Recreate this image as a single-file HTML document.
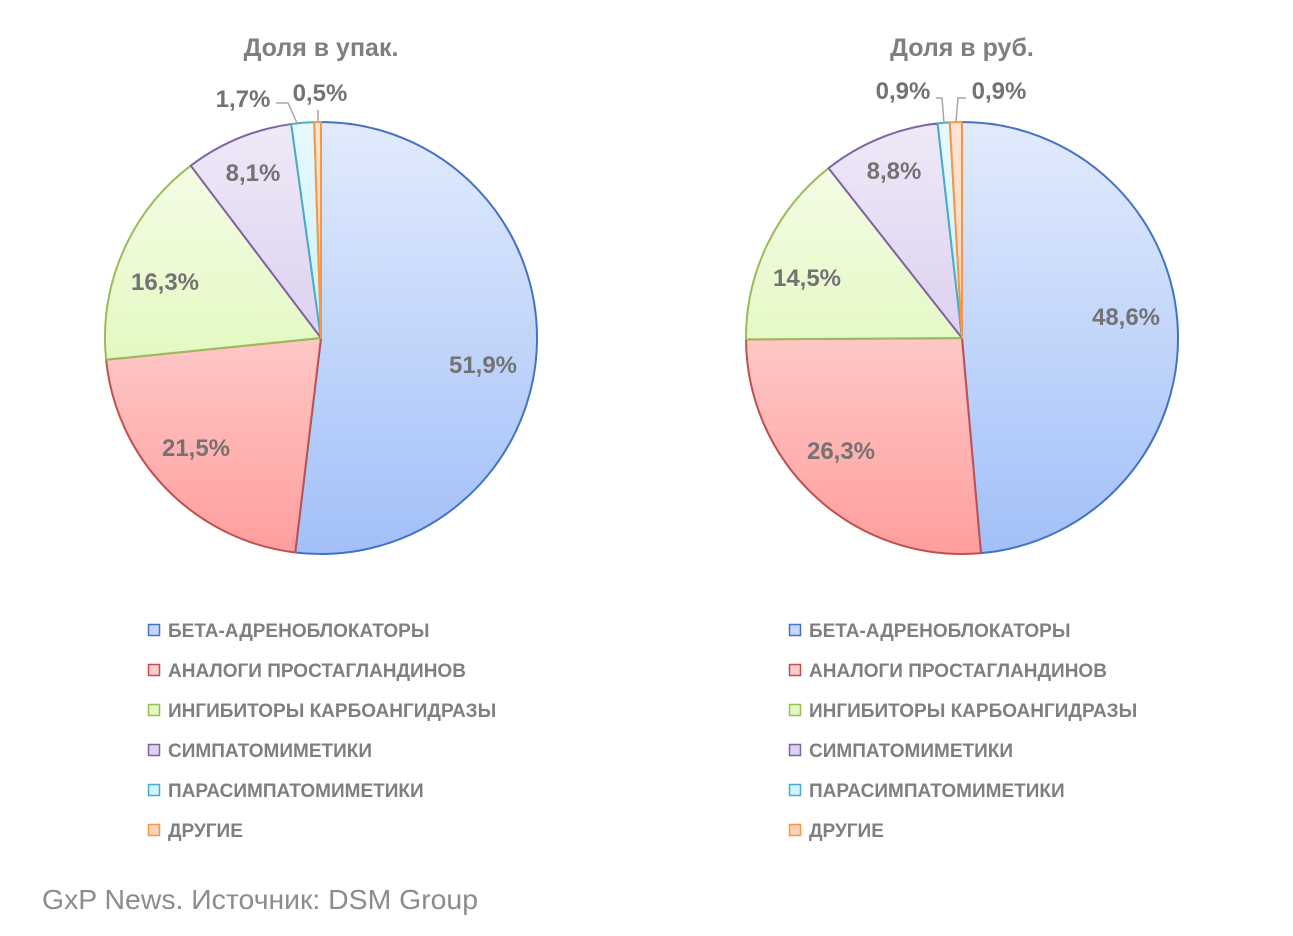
<!DOCTYPE html>
<html><head><meta charset="utf-8"><style>
body{margin:0;background:#fff;width:1293px;height:936px;overflow:hidden;font-family:"Liberation Sans","DejaVu Sans",sans-serif}
svg{position:absolute;left:0;top:0}
</style></head><body>
<svg id="s" width="1293" height="936" xmlns="http://www.w3.org/2000/svg">
<defs>
<linearGradient id="gb" gradientUnits="userSpaceOnUse" x1="0" y1="122" x2="0" y2="553"><stop offset="0" stop-color="#e2ebfd"/><stop offset="1" stop-color="#a2c0f8"/></linearGradient>
<linearGradient id="gr" gradientUnits="userSpaceOnUse" x1="0" y1="122" x2="0" y2="553"><stop offset="0" stop-color="#fff0f0"/><stop offset="1" stop-color="#ff9e9e"/></linearGradient>
<linearGradient id="gg" gradientUnits="userSpaceOnUse" x1="0" y1="122" x2="0" y2="553"><stop offset="0" stop-color="#f8fdee"/><stop offset="1" stop-color="#d2f59c"/></linearGradient>
<linearGradient id="gp" gradientUnits="userSpaceOnUse" x1="0" y1="122" x2="0" y2="553"><stop offset="0" stop-color="#efe9f7"/><stop offset="1" stop-color="#cbb9ea"/></linearGradient>
<linearGradient id="gc" gradientUnits="userSpaceOnUse" x1="0" y1="122" x2="0" y2="553"><stop offset="0" stop-color="#e6f9fe"/><stop offset="1" stop-color="#b5ecfa"/></linearGradient>
<linearGradient id="go" gradientUnits="userSpaceOnUse" x1="0" y1="122" x2="0" y2="553"><stop offset="0" stop-color="#fde4d4"/><stop offset="1" stop-color="#fbc39a"/></linearGradient>
</defs>
<g font-weight="bold" fill="#7f7f7f" font-size="25">
<text x="321" y="56" text-anchor="middle">Доля в упак.</text>
<text x="962" y="56" text-anchor="middle">Доля в руб.</text>
</g>
<g id="pies"></g>
<g font-weight="bold" fill="#737373" font-size="24" text-anchor="middle">
<text x="483" y="373">51,9%</text>
<text x="196" y="456">21,5%</text>
<text x="165" y="290">16,3%</text>
<text x="253" y="181">8,1%</text>
<text x="243" y="107">1,7%</text>
<text x="320" y="101">0,5%</text>
<text x="1126" y="325">48,6%</text>
<text x="841" y="459">26,3%</text>
<text x="807" y="286">14,5%</text>
<text x="894" y="179">8,8%</text>
<text x="903" y="99">0,9%</text>
<text x="999" y="99">0,9%</text>
</g>
<g stroke="#a6a6a6" stroke-width="1.5" fill="none">
<polyline points="276,103 288,103 297,123"/>
<polyline points="318,110 318,123"/>
<polyline points="936,98 942,98 944,123"/>
<polyline points="966,98 958,98 956,122"/>
</g>
<g id="leg" font-weight="bold" fill="#7f7f7f" font-size="19"></g>
<text x="42" y="909" font-size="28" fill="#8c8c8c" textLength="436" lengthAdjust="spacingAndGlyphs">GxP News. Источник: DSM Group</text>
</svg>
<script>
var cols=[["url(#gb)","#4472c4"],["url(#gr)","#c0504d"],["url(#gg)","#9bbb59"],["url(#gp)","#8064a2"],["url(#gc)","#4bacc6"],["url(#go)","#f79646"]];
var NS="http://www.w3.org/2000/svg";
function pie(cx,cy,r,vals){var g=document.getElementById("pies");var a=0;
vals.forEach(function(v,i){var a0=a*2*Math.PI/100,a1=(a+v)*2*Math.PI/100;a+=v;
var x0=cx+r*Math.sin(a0),y0=cy-r*Math.cos(a0),x1=cx+r*Math.sin(a1),y1=cy-r*Math.cos(a1);
var p=document.createElementNS(NS,"path");
p.setAttribute("d","M"+cx+","+cy+"L"+x0+","+y0+"A"+r+","+r+" 0 "+((a1-a0)>Math.PI?1:0)+" 1 "+x1+","+y1+"Z");
p.setAttribute("fill",cols[i][0]);p.setAttribute("stroke",cols[i][1]);p.setAttribute("stroke-width","2");p.setAttribute("stroke-linejoin","round");
g.appendChild(p);});}
pie(321,338,216,[51.9,21.5,16.3,8.1,1.7,0.5]);
pie(962,338,216,[48.6,26.3,14.5,8.8,0.9,0.9]);
var names=["БЕТА-АДРЕНОБЛОКАТОРЫ","АНАЛОГИ ПРОСТАГЛАНДИНОВ","ИНГИБИТОРЫ КАРБОАНГИДРАЗЫ","СИМПАТОМИМЕТИКИ","ПАРАСИМПАТОМИМЕТИКИ","ДРУГИЕ"];
var lg=document.getElementById("leg");
var lf={0:"#c5d8fb",1:"#fcc",2:"#e4f8c4",3:"#ddd2f0",4:"#d0f3fc",5:"#fcd3b6"};
[148,789].forEach(function(x){names.forEach(function(n,i){var y=630+i*40;
var r=document.createElementNS(NS,"rect");r.setAttribute("x",x+0.5);r.setAttribute("y",y-5.5);r.setAttribute("width",11);r.setAttribute("height",11);
r.setAttribute("stroke",cols[i][1]);r.setAttribute("stroke-width","1.5");r.setAttribute("fill",lf[i]);lg.appendChild(r);
var t=document.createElementNS(NS,"text");t.setAttribute("x",x+20);t.setAttribute("y",y+7);t.textContent=n;lg.appendChild(t);});});
</script>
</body></html>
